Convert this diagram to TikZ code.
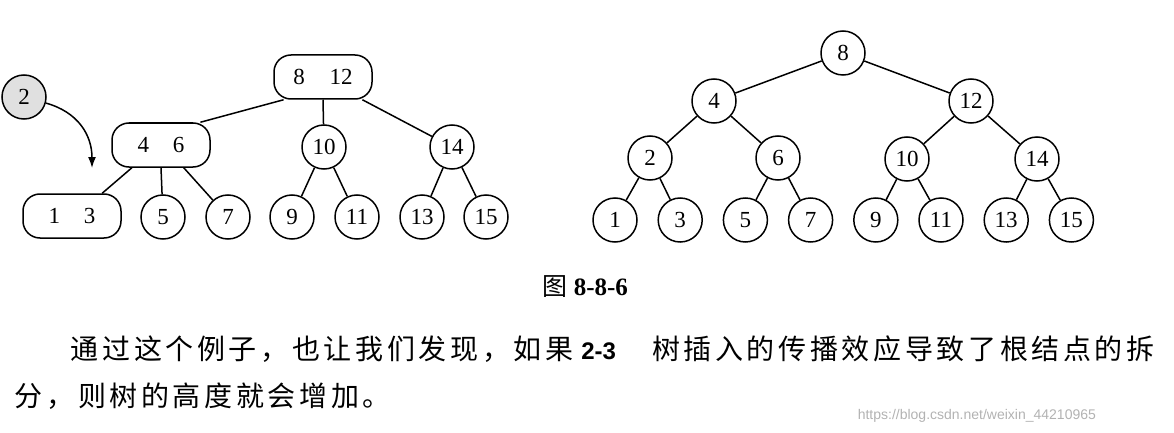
\documentclass[tikz,border=0pt]{standalone}
\usepackage{fontspec}
\setmainfont{Liberation Serif}
\newfontfamily\cjk{Noto Sans CJK SC}[LetterSpace=13]
\newfontfamily\sans{Liberation Sans}
\usetikzlibrary{arrows.meta}

\begin{document}
\begin{tikzpicture}[x=1pt,y=-1pt,line width=1.5pt,>={Latex[length=11pt,width=8pt]},
  key/.style={draw,circle,minimum size=44pt,inner sep=0pt,font=\fontsize{23}{25}\selectfont},
  pair/.style={draw,rectangle,rounded corners=17pt,minimum width=98pt,
    minimum height=44pt,inner sep=0pt,font=\fontsize{23}{25}\selectfont},
  new/.style={key,fill=black!12}]
  \useasboundingbox (0,0) rectangle (1174,433);

  % 2-3 tree, 2 goes into the leaf 1 3
  \node[pair] (r) at (323,77) {8\hspace{25pt}12};
  \node[pair] (a) at (161,145) {4\hspace{24pt}6};
  \node[key] (b) at (324,147) {10};
  \node[key] (c) at (452,147) {14};
  \node[pair] (a1) at (72,216) {1\hspace{24pt}3};
  \node[key] (a2) at (163,217) {5};
  \node[key] (a3) at (228,217) {7};
  \node[key] (b1) at (292,217) {9};
  \node[key] (b2) at (357,217) {11};
  \node[key] (c1) at (422,217) {13};
  \node[key] (c2) at (486,217) {15};

  \draw (r.210) -- (a.30);
  \draw (r.south) -- (b);
  \draw (r.-30) -- (c);
  \draw (a.218) -- (a1.37);
  \draw (a.south) -- (a2);
  \draw (a.-45) -- (a3);
  \draw (b) -- (b1);
  \draw (b) -- (b2);
  \draw (c) -- (c1);
  \draw (c) -- (c2);

  \node[new] (ins) at (24,97) {2};
  \coordinate (tip) at (92,168);
  \draw[->] (ins) .. controls (78,112) and (92,135) .. (tip);

  % after the split
  \node[key] (t8) at (843,53) {8};
  \node[key] (t4) at (714,101) {4};
  \node[key] (t12) at (971,101) {12};
  \node[key] (t2) at (650,158) {2};
  \node[key] (t6) at (778,158) {6};
  \node[key] (t10) at (907,159) {10};
  \node[key] (t14) at (1037,159) {14};
  \foreach \k [count=\i from 0] in {1,3,...,15}
    \node[key] (t\k) at (615+65.2*\i,220) {\k};

  \foreach \p/\c in {t8/t4,t8/t12,t4/t2,t4/t6,t12/t10,t12/t14,
    t2/t1,t2/t3,t6/t5,t6/t7,t10/t9,t10/t11,t14/t13,t14/t15}
    \draw (\p) -- (\c);

  \node[anchor=base west,inner sep=0pt] (cap) at (542,295)
    {{\cjk\fontsize{25}{25}\selectfont 图}\hspace{6pt}{\fontsize{25}{25}\selectfont\bfseries 8-8-6}};

  \node[anchor=base west,inner sep=0pt,font=\cjk\fontsize{28}{28}\selectfont] (line1) at (70,359)
    {通过这个例子，也让我们发现，如果\hspace{8pt}{\sans\bfseries\fontsize{24}{24}\selectfont 2-3}\hspace{36pt}树插入的传播效应导致了根结点的拆};
  \node[anchor=base west,inner sep=0pt,font=\cjk\fontsize{28}{28}\selectfont] (line2) at (14,406)
    {分，则树的高度就会增加。};

  \node[anchor=base west,inner sep=0pt,text=black!30,font=\sans\fontsize{14}{14}\selectfont] (mark)
    at (857,419) {https://blog.csdn.net/weixin\_44210965};
\end{tikzpicture}
\end{document}
